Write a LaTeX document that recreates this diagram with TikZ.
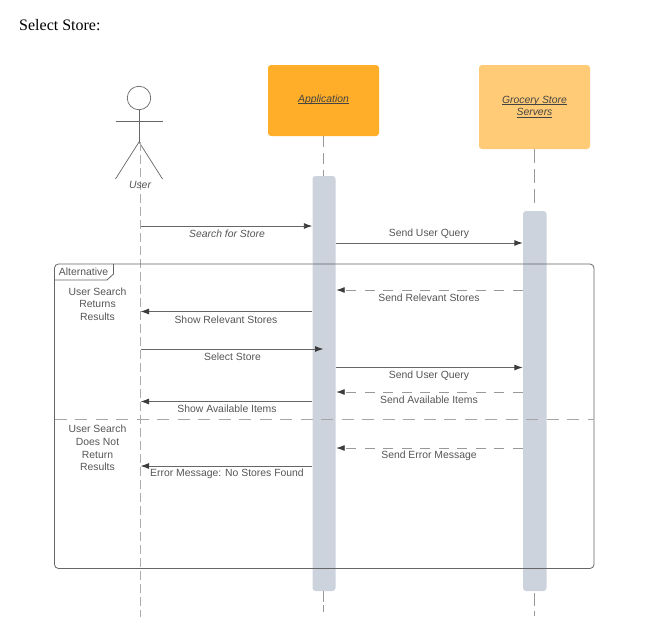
\documentclass[tikz,border=0pt]{standalone}
\usepackage{fontspec}
\setmainfont{Liberation Sans}
\newfontfamily\pagefont{Liberation Serif}
\usetikzlibrary{arrows.meta}
\definecolor{appcol}{HTML}{FFAE29}
\definecolor{storecol}{HTML}{FFCB76}
\definecolor{barcol}{HTML}{CDD3DC}
\definecolor{txtcol}{HTML}{555555}
\definecolor{linecol}{HTML}{666666}

\begin{document}
\begin{tikzpicture}[x=1pt,y=-1pt,
	box/.style={rectangle, rounded corners=3pt, minimum width=111pt, inner sep=0pt, align=center, font=\fontsize{10.4}{12.5}\selectfont\itshape, text=txtcol!80!black},
	bar/.style={rectangle, rounded corners=3pt, fill=barcol, minimum width=23pt, inner sep=0pt},
	life/.style={draw=gray!80, line width=0.9pt},
	msg/.style={draw=linecol, line width=0.9pt, -{Latex[length=8.5pt,width=6pt,color=txtcol!70!black]}},
	reply/.style={msg, draw=gray!80, dash pattern=on 10pt off 8.5pt},
	lbl/.style={inner sep=0pt, align=center, text=txtcol, font=\fontsize{10.4}{12.6}\selectfont}]
\useasboundingbox (0,0) rectangle (656,640);
\node [anchor=west, inner sep=0pt, font=\fontsize{16}{18}\selectfont\pagefont] (title) at (19,25) {Select Store:};

% lifeline heads
\node [box, fill=appcol, minimum height=71pt] (app) at (323.5,100.5) {};
\node [box, fill=storecol, minimum height=84pt] (store) at (534.5,107) {};
\node [box, anchor=center] (apptxt) at (323.5,103) {\underline{\smash{Application}}};
\node [box, anchor=center] (storetxt) at (534.5,110.5) {\underline{\smash{Grocery Store}}\\\underline{\smash{Servers}}};

% actor
\node [circle, draw=linecol, line width=0.7pt, minimum size=23.5pt, inner sep=0pt] (head) at (139,98) {};
\coordinate (hip) at (139,142);
\coordinate (lhand) at (115.5,121);
\coordinate (rhand) at (162.5,121);
\coordinate (lfoot) at (115.5,179);
\coordinate (rfoot) at (162.5,179);
\draw [draw=linecol, line width=0.7pt] (head.south) -- (hip);
\draw [draw=linecol, line width=0.7pt] (lhand) -- (rhand);
\draw [draw=linecol, line width=0.7pt] (lfoot) -- (hip) -- (rfoot);

% activation bars
\node [bar, minimum height=415pt] (appbar) at (324,383.5) {};
\node [bar, minimum height=380pt, minimum width=23.5pt] (storebar) at (534.75,401) {};

% lifelines
\coordinate (usertop) at (140.5,142);
\coordinate (userend) at (140.5,617);
\coordinate (append) at (323.5,612);
\coordinate (storeend) at (534.5,616);
\draw [life, dash pattern=on 8.5pt off 4.5pt, draw=gray!65] (usertop) -- (userend);
\draw [life, dash pattern=on 11pt off 6pt] (app.south) -- (app.south |- appbar.north);
\draw [life, dash pattern=on 11pt off 3pt] (app.south |- appbar.south) -- (append);
\draw [life, dash pattern=on 14pt off 6pt] (store.south) -- (store.south |- 0,207);
\draw [life, dash pattern=on 13pt off 5pt] (store.south |- 0,593) -- (storeend);

\node [lbl, font=\fontsize{10.4}{12}\selectfont\itshape] (user) at (140,184.5) {User};

% frame
\coordinate (fnw) at (54.5,264);
\coordinate (fse) at (594,568.5);
\coordinate (divl) at (54.5,419);
\coordinate (divr) at (594,419);
\coordinate (tabr) at (113.5,264);
\coordinate (tabb) at (54.5,280);
\draw [draw=linecol, line width=0.8pt, rounded corners=4pt] (fnw) rectangle (fse);
\draw [draw=linecol, line width=0.8pt] (tabr) -- (113.5,274) -- (107,280) -- (tabb);
\draw [draw=gray!70, line width=1pt, dash pattern=on 12pt off 8.5pt] (divl) -- (divr);
\node [lbl] (alt) at (83.5,272) {Alternative};
\node [lbl] (cond1) at (97.5,304) {User Search\\Returns\\Results};
\node [lbl] (cond2) at (97.5,448) {User Search\\Does Not\\Return\\Results};

% messages
\draw [msg] (usertop |- 0,226) -- (appbar.west |- 0,226);
\node [lbl, font=\fontsize{10.4}{12}\selectfont\itshape] (m1) at (227,233.5) {Search for Store};
\draw [msg] (appbar.east |- 0,243) -- (storebar.west |- 0,243);
\node [lbl] (m2) at (429,234) {Send User Query};
\draw [reply] (storebar.west |- 0,290) -- ([xshift=0.5pt]appbar.east |- 0,290);
\node [lbl] (m3) at (429,298) {Send Relevant Stores};
\draw [msg] (appbar.west |- 0,311.5) -- (usertop |- 0,311.5);
\node [lbl] (m4) at (226,319.5) {Show Relevant Stores};
\draw [msg] (usertop |- 0,349) -- (app.south |- 0,349);
\node [lbl] (m5) at (232.5,356.5) {Select Store};
\draw [msg] (appbar.east |- 0,367.5) -- (storebar.west |- 0,367.5);
\node [lbl] (m6) at (429,375.5) {Send User Query};
\draw [reply] (storebar.west |- 0,392) -- ([xshift=0.5pt]appbar.east |- 0,392);
\node [lbl] (m7) at (429,400) {Send Available Items};
\draw [msg] (appbar.west |- 0,401.5) -- (usertop |- 0,401.5);
\node [lbl] (m8) at (227,408.5) {Show Available Items};
\draw [reply] (storebar.west |- 0,448) -- ([xshift=0.5pt]appbar.east |- 0,448);
\node [lbl] (m9) at (429,455.5) {Send Error Message};
\draw [msg] (appbar.west |- 0,466) -- (usertop |- 0,466);
\node [lbl] (m10) at (227,473.5) {Error Message: No Stores Found};
\end{tikzpicture}
\end{document}
